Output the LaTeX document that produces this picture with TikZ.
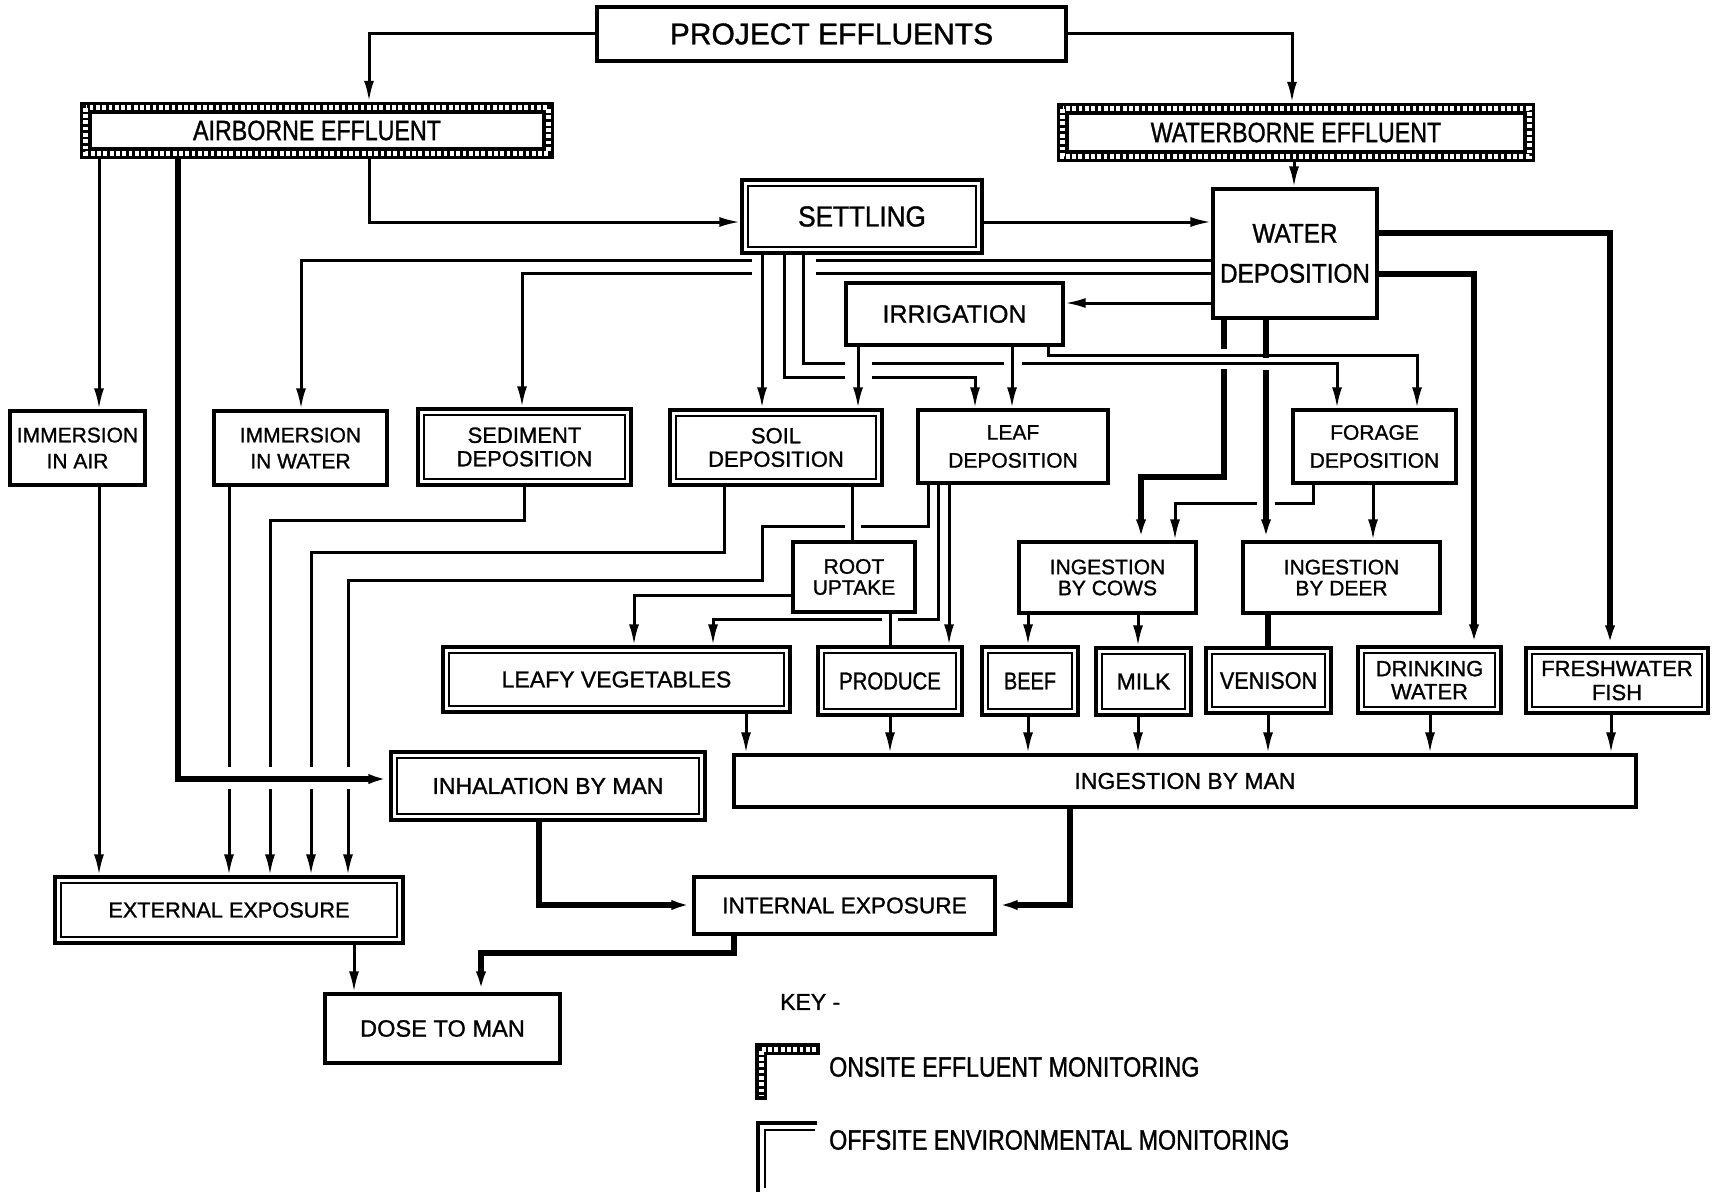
\documentclass[tikz,border=0pt]{standalone}
\usepackage{fontspec}
\setmainfont{Liberation Sans}[FakeBold=1.1]
\newfontfamily\fcnd{Liberation Sans}[FakeStretch=0.83,FakeBold=1.1]
\newfontfamily\fmid{Liberation Sans}[FakeStretch=0.9,FakeBold=1.1]
\usetikzlibrary{arrows.meta}
\newcommand\fsz[2]{\fontsize{#1}{#2}\selectfont}
\begin{document}
\begin{tikzpicture}[x=1pt,y=-1pt,
  box/.style={draw, line width=3.2pt, inner sep=0pt, align=center},
  nobox/.style={inner sep=0pt, align=center},
  ln/.style={line width=3pt},
  bl/.style={line width=5.2pt},
  arr/.style={-{Latex[length=21pt,width=10pt]}},
]
\fill[white] (0,0) rectangle (1723,1193);
\useasboundingbox (0,0) rectangle (1723,1193);

% ---------- nodes ----------
\node[box, minimum width=469pt, minimum height=54pt, font=\fsz{30}{34}] (PE) at (831.5,34) {PROJECT EFFLUENTS};
\node[nobox, minimum width=474pt, minimum height=57pt, font=\fcnd\fsz{28}{32}] (AIR) at (317,130.5) {AIRBORNE EFFLUENT};
\node[nobox, minimum width=478pt, minimum height=59pt, font=\fcnd\fsz{28}{32}] (WAT) at (1296,132.5) {WATERBORNE EFFLUENT};
\node[box, minimum width=240pt, minimum height=73pt, font=\fmid\fsz{29}{32}] (SET) at (862,216.5) {SETTLING};
\node[box, minimum width=164pt, minimum height=129pt, font=\fmid\fsz{27}{40}] (WD) at (1295,253.5) {WATER\\DEPOSITION};
\node[box, minimum width=217pt, minimum height=62pt, font=\fsz{25}{28}] (IRR) at (954.5,314) {IRRIGATION};
\node[box, minimum width=135pt, minimum height=74pt, font=\fsz{21}{26}] (IMA) at (77.5,448) {IMMERSION\\IN AIR};
\node[box, minimum width=173pt, minimum height=74pt, font=\fsz{21}{26}] (IMW) at (300.5,448) {IMMERSION\\IN WATER};
\node[box, minimum width=213pt, minimum height=76pt, font=\fsz{22}{23.5}] (SED) at (524.5,447) {SEDIMENT\\DEPOSITION};
\node[box, minimum width=212pt, minimum height=75pt, font=\fsz{22}{23.5}] (SOIL) at (776,447.5) {SOIL\\DEPOSITION};
\node[box, minimum width=190pt, minimum height=73pt, font=\fsz{21}{28}] (LEAF) at (1013,446.5) {LEAF\\DEPOSITION};
\node[box, minimum width=163pt, minimum height=73pt, font=\fsz{21}{28}] (FOR) at (1374.5,446.5) {FORAGE\\DEPOSITION};
\node[box, minimum width=122pt, minimum height=70pt, font=\fsz{21}{21}] (ROOT) at (854,577) {ROOT\\UPTAKE};
\node[box, minimum width=177pt, minimum height=71pt, font=\fsz{21}{21}] (COWS) at (1107.5,577.5) {INGESTION\\BY COWS};
\node[box, minimum width=197pt, minimum height=71pt, font=\fsz{21}{21}] (DEER) at (1341.5,577.5) {INGESTION\\BY DEER};
\node[box, minimum width=347pt, minimum height=65pt, font=\fsz{23}{26}] (LVEG) at (616.5,679.5) {LEAFY VEGETABLES};
\node[box, minimum width=144pt, minimum height=68pt, font=\fcnd\fsz{24.5}{27}] (PROD) at (890,681) {PRODUCE};
\node[box, minimum width=96pt, minimum height=68pt, font=\fcnd\fsz{24}{27}] (BEEF) at (1030,681) {BEEF};
\node[box, minimum width=95pt, minimum height=67pt, font=\fsz{23}{26}] (MILK) at (1143.5,681.5) {MILK};
\node[box, minimum width=125pt, minimum height=65pt, font=\fmid\fsz{24}{27}] (VEN) at (1268.5,680.5) {VENISON};
\node[box, minimum width=143pt, minimum height=66pt, font=\fsz{22}{23}] (DW) at (1429.5,680) {DRINKING\\WATER};
\node[box, minimum width=182pt, minimum height=65pt, font=\fsz{22}{24}] (FISH) at (1617,680.5) {FRESHWATER\\FISH};
\node[box, minimum width=902pt, minimum height=52pt, font=\fsz{23}{26}] (IBM) at (1185,781) {INGESTION BY MAN};
\node[box, minimum width=314pt, minimum height=68pt, font=\fsz{23}{26}] (INH) at (548,786) {INHALATION BY MAN};
\node[box, minimum width=348pt, minimum height=66pt, font=\fsz{21.7}{25}] (EXT) at (229,910) {EXTERNAL EXPOSURE};
\node[box, minimum width=301pt, minimum height=57pt, font=\fsz{22.7}{25}] (INT) at (844.5,905.5) {INTERNAL EXPOSURE};
\node[box, minimum width=235pt, minimum height=69pt, font=\fsz{23.6}{26}] (DOSE) at (442.5,1028.5) {DOSE TO MAN};
\node[nobox, anchor=west, font=\fsz{23}{26}] (KEY) at (780,1002) {KEY -};
\node[nobox, anchor=west, font=\fcnd\fsz{28}{32}] (ON) at (829,1067) {ONSITE EFFLUENT MONITORING};
\node[nobox, anchor=west, font=\fcnd\fsz{28}{32}] (OFF) at (829,1140) {OFFSITE ENVIRONMENTAL MONITORING};

% ---------- box decorations ----------
\foreach \n in {SET,SED,SOIL,LVEG,PROD,BEEF,MILK,VEN,DW,FISH,INH,EXT}
  \draw[line width=2.2pt] ([shift={(7.8pt,-7.8pt)}]\n.north west) rectangle ([shift={(-7.8pt,7.8pt)}]\n.south east);
\foreach \n in {AIR,WAT}{
  \draw[line width=12pt] ([shift={(6pt,-6pt)}]\n.north west) rectangle ([shift={(-6pt,6pt)}]\n.south east);
  \draw[white, line width=5pt, dash pattern=on 3.8pt off 2.5pt] ([shift={(6pt,-6pt)}]\n.north west) rectangle ([shift={(-6pt,6pt)}]\n.south east);
}
% key symbols
\draw[line width=12pt] (820,1049) -- (761,1049) -- (761,1100);
\draw[white, line width=5pt, dash pattern=on 3.8pt off 2.5pt] (816,1049) -- (761,1049) -- (761,1096);
\draw[line width=3.2pt] (817,1123) -- (758,1123) -- (758,1192);
\draw[line width=2.2pt] (815,1130) -- (765,1130) -- (765,1188);

% ---------- connectors (under layer first) ----------
\draw[ln,arr] (WD.west |- 0,260) -| (301,0 |- IMW.north);
\draw[ln,arr] (WD.west |- 0,273) -| (522,0 |- SED.north);
\fill[white] (752,257) rectangle (816,279);

\draw[ln,arr] (1313,0 |- FOR.south) |- (1175,503) -- (1175,0 |- COWS.north);
\fill[white] (1257,497) rectangle (1275,509);
\draw[bl,arr] (1224,0 |- WD.south) |- (1141,477) -- (1141,0 |- COWS.north);
\draw[bl,arr] (1266,0 |- WD.south) -- (1266,0 |- DEER.north);
\fill[white] (1216,349) rectangle (1232,369);
\fill[white] (1258,358) rectangle (1274,370);

% settling
\draw[ln,arr] (762,0 |- SET.south) -- (762,0 |- SOIL.north);
\draw[ln,arr] (784,0 |- SET.south) |- (975,377) -- (975,0 |- LEAF.north);
\draw[ln,arr] (803,0 |- SET.south) |- (1337,363) -- (1337,0 |- FOR.north);
\fill[white] (845,358) rectangle (872,382);
\fill[white] (1004,358) rectangle (1022,368);

% irrigation
\draw[ln,arr] (WD.west |- 0,303) -- (IRR.east |- 0,303);
\draw[ln,arr] (858,0 |- IRR.south) -- (858,0 |- SOIL.north);
\draw[ln,arr] (1012,0 |- IRR.south) -- (1012,0 |- LEAF.north);
\draw[ln,arr] (1048,0 |- IRR.south) |- (1417,355) -- (1417,0 |- FOR.north);

% effluents
\draw[ln,arr] (PE.west) -| (369,0 |- AIR.north);
\draw[ln,arr] (PE.east) -| (1292,0 |- WAT.north);
\draw[ln,arr] (1294,0 |- WAT.south) -- (1294,0 |- WD.north);
\draw[ln,arr] (99,0 |- AIR.south) -- (99,0 |- IMA.north);
\draw[ln,arr] (369,0 |- AIR.south) |- (SET.west |- 0,222);
\draw[ln,arr] (SET.east |- 0,222) -- (WD.west |- 0,222);
\draw[bl,arr] (WD.east |- 0,233) -| (1610,0 |- FISH.north);
\draw[bl,arr] (WD.east |- 0,274) -| (1474,0 |- DW.north);
\draw[ln,arr] (1373,0 |- FOR.south) -- (1373,0 |- DEER.north);

% deposition to exposure / foods
\draw[ln,arr] (99,0 |- IMA.south) -- (99,0 |- EXT.north);
\draw[ln,arr] (229,0 |- IMW.south) -- (229,0 |- EXT.north);
\draw[ln,arr] (524,0 |- SED.south) |- (270,520) -- (270,0 |- EXT.north);
\draw[ln,arr] (724,0 |- SOIL.south) |- (311,552) -- (311,0 |- EXT.north);
\draw[ln,arr] (928,0 |- LEAF.south) |- (762,526) |- (348,580) -- (348,0 |- EXT.north);
\fill[white] (845,521) rectangle (861,531);
\draw[ln] (852,0 |- SOIL.south) -- (852,0 |- ROOT.north);
\draw[ln,arr] (938,0 |- LEAF.south) |- (713,619) -- (713,0 |- LVEG.north);
\fill[white] (882,614) rectangle (898,624);
\draw[ln] (890,0 |- ROOT.south) -- (890,0 |- PROD.north);
\draw[ln,arr] (949,0 |- LEAF.south) -- (949,0 |- PROD.north);
\draw[ln,arr] (ROOT.west |- 0,595) -| (634,0 |- LVEG.north);
\draw[ln,arr] (1028,0 |- COWS.south) -- (1028,0 |- BEEF.north);
\draw[ln,arr] (1138,0 |- COWS.south) -- (1138,0 |- MILK.north);
\draw[bl] (1268,0 |- DEER.south) -- (1268,0 |- VEN.north);
\foreach \n/\xx in {LVEG/746, PROD/890, BEEF/1028, MILK/1138, VEN/1268, DW/1430, FISH/1611}
  \draw[ln,arr] (\xx,0 |- \n.south) -- (\xx,0 |- IBM.north);

% man
\fill[white] (221,767) rectangle (356,789);
\draw[bl,arr] (178,0 |- AIR.south) |- (INH.west |- 0,779);
\draw[bl,arr] (539,0 |- INH.south) |- (INT.west |- 0,905);
\draw[bl,arr] (1070,0 |- IBM.south) |- (INT.east |- 0,905);
\draw[ln,arr] (354,0 |- EXT.south) -- (354,0 |- DOSE.north);
\draw[bl,arr] (734,0 |- INT.south) |- (481,953) -- (481,0 |- DOSE.north);
\end{tikzpicture}
\end{document}
